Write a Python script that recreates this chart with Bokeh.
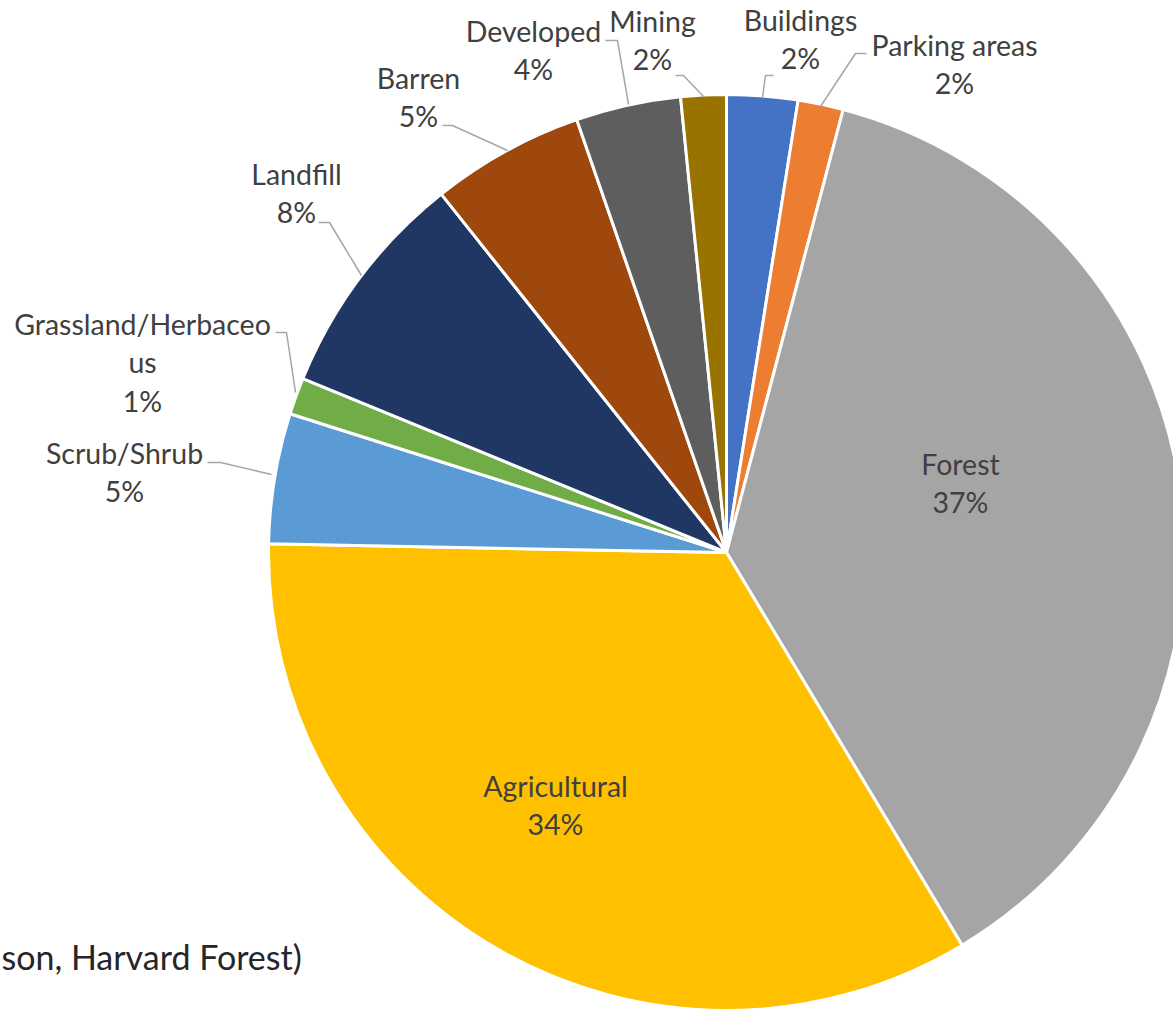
import math
from bokeh.plotting import figure
from bokeh.models import ColumnDataSource
from bokeh.core.properties import value
from bokeh.embed import file_html
from bokeh.resources import INLINE

# ---- data ----
categories = ["Buildings", "Parking areas", "Forest", "Agricultural", "Scrub/Shrub",
              "Grassland/Herbaceo\nus", "Landfill", "Barren", "Developed", "Mining"]
shares = [2.5, 1.6, 37.3, 33.9, 4.6, 1.3, 8.1, 5.4, 3.7, 1.6]
colors = ["#4472C4", "#ED7D31", "#A5A5A5", "#FFC000", "#5B9BD5",
          "#70AD47", "#213763", "#9E480E", "#5E5E5E", "#997300"]
source_note = "son, Harvard Forest)"

# ---- layout (image pixel coordinates, y measured from top) ----
W, H = 1173, 1012
CX, CY, R = 726, 552, 458
label_pos = [(800, 19), (954, 44), (960, 463), (555, 785), (124, 452),
             (142, 323), (296, 173), (418, 77), (533, 30), (652, 20)]
line_gap = 38.5
leaders = [
    [(773, 75), (765, 75), (762, 97)],
    [(866, 53), (855, 53), (820, 106)],
    None,
    None,
    [(207, 462), (220, 462), (271, 474)],
    [(275, 332), (286, 332), (295, 392)],
    [(318, 222), (329, 222), (361, 275)],
    [(442, 125), (452, 125), (507, 150)],
    [(605, 40), (617, 40), (628, 104)],
    [(675, 75), (683, 75), (703, 96)],
]

def fy(y):
    return H - y

p = figure(width=W, height=H, x_range=(0, W), y_range=(0, H),
           output_backend="svg", toolbar_location=None, min_border=0,
           background_fill_color="white", border_fill_color="white")
p.axis.visible = False
p.xgrid.visible = False
p.ygrid.visible = False
p.outline_line_color = None

total = sum(shares)
starts, ends = [], []
cum = 0.0
for s in shares:
    starts.append(math.pi / 2 - 2 * math.pi * cum / total)
    cum += s
    ends.append(math.pi / 2 - 2 * math.pi * cum / total)

src = ColumnDataSource(dict(start=starts, end=ends, color=colors))
p.wedge(x=CX, y=fy(CY), radius=R, start_angle="start", end_angle="end",
        direction="clock", fill_color="color", line_color="white",
        line_width=3, source=src)

# leader lines
for ld in leaders:
    if ld is None:
        continue
    p.line([pt[0] for pt in ld], [fy(pt[1]) for pt in ld],
           line_color="#A6A6A6", line_width=1.5)

# labels
tx, ty, tt = [], [], []
for name, s, (x, y) in zip(categories, shares, label_pos):
    lines = name.split("\n") + [f"{round(s / total * 100)}%"]
    for i, ln in enumerate(lines):
        tx.append(x)
        ty.append(fy(y + i * line_gap))
        tt.append(ln)
p.text(x=tx, y=ty, text=tt, text_font=value("Lato"), text_font_size="28.5px",
       text_color="#404040", text_align="center", text_baseline="middle")

p.text(x=[1], y=[fy(956)], text=[source_note], text_font=value("Lato"),
       text_font_size="34px", text_color="#262626", text_align="left",
       text_baseline="middle")

open("out.html", "w").write(file_html(p, INLINE))
